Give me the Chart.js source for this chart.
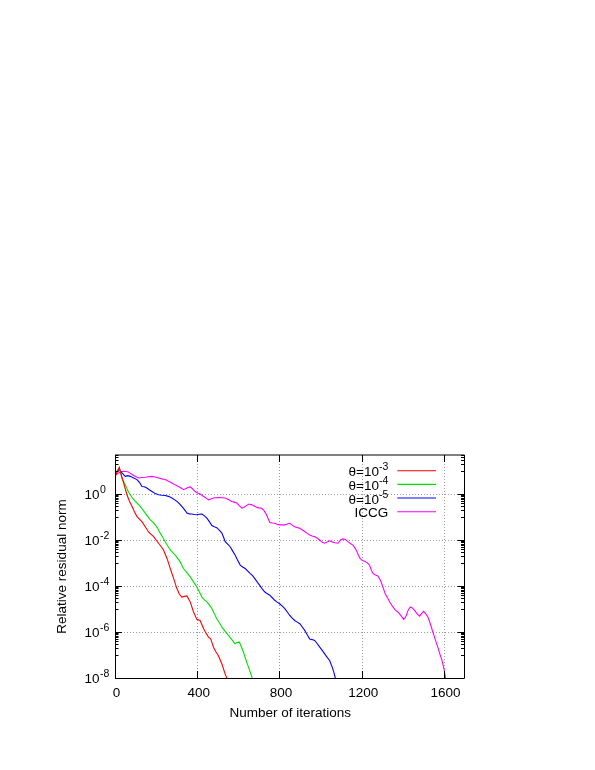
<!DOCTYPE html>
<html>
<head>
<meta charset="utf-8">
<script src="https://cdn.jsdelivr.net/npm/chart.js@4/dist/chart.umd.min.js"></script>
<style>
html,body{margin:0;padding:0;background:#fff;}
#wrap{width:595px;height:770px;position:relative;}
</style>
</head>
<body>
<div id="wrap"><canvas id="c"></canvas></div>
<script>
// ---------------- data (iterations, log10 of relative residual norm) ----------------
const redIter = [0,10,21,30,42,58,70,83,95,107,120,131,147,164,176,188,200,212,224,236,
  253,269,285,301,313,325,338,350,366,382,398,414,431,443,455,465,471,479,490,503,520,536,546];
const redLog10 = [0.75,0.95,1.16,0.85,0.48,-0.03,-0.30,-0.54,-0.78,-0.98,-1.10,-1.20,-1.42,-1.66,-1.75,-1.85,-2.00,-2.14,-2.28,-2.43,
  -2.80,-3.24,-3.67,-4.11,-4.35,-4.48,-4.45,-4.43,-4.69,-5.13,-5.45,-5.50,-5.86,-6.05,-6.22,-6.30,-6.44,-6.66,-6.85,-7.03,-7.39,-7.83,-8.05];

const greenIter = [0,10,21,35,50,62,74,86,99,111,123,135,147,160,172,184,196,208,220,232,
  244,256,269,281,293,305,317,325,333,350,366,382,398,410,423,435,447,459,471,483,
  495,508,520,536,552,568,584,595,605,615,625,641,657,669];
const greenLog10 = [0.85,1.00,1.14,0.65,0.41,0.15,-0.03,-0.18,-0.32,-0.43,-0.54,-0.68,-0.83,-0.98,-1.12,-1.22,-1.34,-1.50,-1.70,-1.88,
  -2.07,-2.25,-2.43,-2.55,-2.65,-2.80,-2.95,-3.10,-3.24,-3.42,-3.60,-3.82,-4.04,-4.25,-4.48,-4.60,-4.69,-4.82,-4.98,-5.20,
  -5.42,-5.60,-5.79,-5.97,-6.15,-6.33,-6.51,-6.45,-6.44,-6.65,-6.88,-7.32,-7.72,-8.05];

const blueIter = [0,5,21,34,50,62,74,91,107,120,131,143,155,168,180,196,212,228,244,260,
  277,289,301,313,325,338,350,362,374,386,398,410,423,435,447,459,471,483,495,508,
  520,528,536,548,560,572,584,596,609,621,633,645,657,670,682,693,704,716,729,741,
  753,765,777,789,801,814,826,838,850,862,874,887,899,911,923,935,947,959,971,984,
  996,1008,1020,1032,1044,1057,1066,1073];
const blueLog10 = [0.80,0.92,1.06,0.92,0.77,0.80,0.77,0.70,0.63,0.50,0.33,0.32,0.26,0.18,0.11,0.02,-0.03,-0.05,-0.06,-0.10,
  -0.17,-0.24,-0.32,-0.42,-0.54,-0.68,-0.83,-0.86,-0.87,-0.89,-0.90,-0.88,-0.87,-0.95,-1.05,-1.20,-1.37,-1.42,-1.46,-1.58,
  -1.70,-1.88,-2.07,-2.18,-2.29,-2.47,-2.65,-2.87,-3.09,-3.17,-3.24,-3.34,-3.45,-3.56,-3.70,-3.84,-3.97,-4.12,-4.26,-4.34,
  -4.40,-4.51,-4.62,-4.70,-4.77,-4.87,-4.98,-5.13,-5.28,-5.40,-5.50,-5.57,-5.64,-5.78,-5.93,-6.12,-6.30,-6.33,-6.37,-6.51,
  -6.66,-6.80,-6.95,-7.10,-7.24,-7.54,-7.80,-8.05];

const iccgIter = [0,5,18,30,42,54,66,78,91,103,
  115,131,147,163,180,196,212,228,244,260,
  277,293,309,321,333,341,350,358,366,378,
  390,402,414,426,439,447,455,467,479,491,
  503,520,536,552,568,580,593,605,617,625,
  633,641,649,657,665,677,690,700,712,725,
  737,745,753,765,777,789,801,814,826,838,
  850,862,874,887,899,911,923,935,947,959,
  971,984,996,1008,1020,1032,1044,1056,1069,1085,
  1097,1109,1121,1133,1145,1157,1166,1174,1182,1190,
  1202,1214,1226,1238,1247,1255,1267,1279,1291,1303,
  1315,1328,1340,1352,1364,1376,1390,1404,1410,1417,
  1426,1436,1446,1457,1469,1481,1491,1501,1511,1522,
  1534,1546,1558,1570,1580,1591,1600,1609];
const iccgLog10 = [0.80,0.84,0.92,0.97,0.99,0.98,0.96,0.88,0.81,0.75,
  0.70,0.72,0.73,0.75,0.77,0.74,0.70,0.66,0.63,0.56,
  0.48,0.40,0.33,0.26,0.19,0.22,0.26,0.30,0.31,0.22,
  0.11,0.05,0.00,-0.07,-0.15,-0.20,-0.25,-0.21,-0.17,-0.16,
  -0.15,-0.16,-0.17,-0.24,-0.32,-0.35,-0.39,-0.50,-0.61,-0.58,
  -0.54,-0.49,-0.44,-0.44,-0.47,-0.52,-0.58,-0.60,-0.61,-0.72,
  -0.90,-1.07,-1.24,-1.26,-1.27,-1.31,-1.34,-1.34,-1.34,-1.30,
  -1.27,-1.35,-1.42,-1.46,-1.49,-1.56,-1.63,-1.71,-1.78,-1.82,
  -1.85,-1.92,-2.00,-2.10,-2.14,-2.08,-2.03,-2.08,-2.12,-2.14,
  -2.00,-1.95,-1.98,-2.07,-2.15,-2.22,-2.33,-2.45,-2.62,-2.78,
  -2.88,-2.92,-2.98,-3.09,-3.31,-3.45,-3.52,-3.56,-3.75,-4.04,
  -4.35,-4.55,-4.75,-4.91,-5.05,-5.13,-5.28,-5.45,-5.40,-5.28,
  -5.05,-4.91,-4.95,-5.06,-5.20,-5.31,-5.20,-5.10,-5.20,-5.35,
  -5.65,-6.00,-6.33,-6.66,-6.95,-7.24,-7.60,-8.05];

// ---------------- labels / ticks ----------------
const seriesMain = ['θ=10', 'θ=10', 'θ=10', 'ICCG'];
const seriesSup  = ['-3', '-4', '-5', ''];
const seriesColors = ['#ff0000', '#00e000', '#0000ff', '#ff00ff'];
const xTicks = [0, 400, 800, 1200, 1600];
const yTickExps = [0, -2, -4, -6, -8];
const xMin = 0, xMax = 1700, yMin = 1e-8, yMax = 50;
const xTitle = 'Number of iterations';
const yTitle = 'Relative residual norm';

// ---------------- build ----------------
function pts(it, lg) { return it.map((v, i) => ({x: v, y: Math.pow(10, lg[i])})); }
const datasets = [
  pts(redIter, redLog10), pts(greenIter, greenLog10),
  pts(blueIter, blueLog10), pts(iccgIter, iccgLog10)
].map((d, i) => ({
  label: seriesMain[i] + seriesSup[i], data: d,
  borderColor: seriesColors[i], borderWidth: 1.1,
  pointRadius: 0, tension: 0, fill: false
}));

const FONT = '"Liberation Sans", Arial, sans-serif';
const MAIN = 13.5, SUP = 10.5, RAISE = 6;

function drawSup(ctx, main, sup, xRight, base) {
  ctx.font = MAIN + 'px ' + FONT;
  const wm = ctx.measureText(main).width;
  ctx.font = SUP + 'px ' + FONT;
  const ws = sup ? ctx.measureText(sup).width : 0;
  const x0 = xRight - wm - ws;
  ctx.textAlign = 'left'; ctx.textBaseline = 'alphabetic';
  ctx.font = MAIN + 'px ' + FONT;
  ctx.fillText(main, x0, base);
  if (sup) { ctx.font = SUP + 'px ' + FONT; ctx.fillText(sup, x0 + wm, base - RAISE); }
}

const gp = {
  id: 'gp',
  beforeDatasetsDraw(chart) {
    const {ctx, chartArea: a, scales: {x, y}} = chart;
    ctx.save();
    ctx.strokeStyle = '#9a9a9a'; ctx.lineWidth = 1; ctx.setLineDash([1, 2]);
    xTicks.forEach(v => {
      if (v <= xMin) return;
      const px = Math.round(x.getPixelForValue(v)) + 0.5;
      ctx.beginPath(); ctx.moveTo(px, a.top); ctx.lineTo(px, a.bottom); ctx.stroke();
    });
    yTickExps.forEach(e => {
      const v = Math.pow(10, e); if (v <= yMin) return;
      const py = Math.round(y.getPixelForValue(v)) + 0.5;
      ctx.beginPath(); ctx.moveTo(a.left, py); ctx.lineTo(a.right, py); ctx.stroke();
    });
    ctx.restore();
  },
  afterDatasetsDraw(chart) {
    const {ctx, chartArea: a, scales: {x, y}} = chart;
    ctx.save();
    ctx.setLineDash([]);
    ctx.strokeStyle = '#000'; ctx.lineWidth = 1;
    // border
    ctx.beginPath();
    ctx.moveTo(a.left + 0.5, a.top); ctx.lineTo(a.left + 0.5, a.bottom + 0.5);
    ctx.moveTo(a.left, a.bottom + 0.5); ctx.lineTo(a.right, a.bottom + 0.5);
    ctx.moveTo(a.left, a.top); ctx.lineTo(a.right, a.top);
    ctx.moveTo(a.right, a.top); ctx.lineTo(a.right, a.bottom);
    ctx.stroke();
    // x major ticks (bottom & top, inward)
    const MAJ = 7, MIN = 3.5;
    ctx.beginPath();
    xTicks.forEach(v => {
      const px = Math.round(x.getPixelForValue(v)) + 0.5;
      ctx.moveTo(px, a.bottom); ctx.lineTo(px, a.bottom - MAJ);
      ctx.moveTo(px, a.top); ctx.lineTo(px, a.top + MAJ);
    });
    // y major ticks
    yTickExps.forEach(e => {
      const py = Math.round(y.getPixelForValue(Math.pow(10, e))) + 0.5;
      ctx.moveTo(a.left, py); ctx.lineTo(a.left + MAJ, py);
      ctx.moveTo(a.right, py); ctx.lineTo(a.right - MAJ, py);
    });
    // y minor ticks: k*10^(E-1), k=1..9 between even decades
    for (let E = -8; E <= 2; E += 2) {
      for (let k = 1; k <= 9; k++) {
        const v = k * Math.pow(10, E - 1);
        if (v <= yMin || v > yMax) continue;
        const py = Math.round(y.getPixelForValue(v)) + 0.5;
        ctx.moveTo(a.left, py); ctx.lineTo(a.left + MIN, py);
        ctx.moveTo(a.right, py); ctx.lineTo(a.right - MIN, py);
      }
    }
    ctx.stroke();

    ctx.fillStyle = '#000';
    // x tick labels
    ctx.font = MAIN + 'px ' + FONT; ctx.textAlign = 'center'; ctx.textBaseline = 'alphabetic';
    xTicks.forEach(v => ctx.fillText(String(v), x.getPixelForValue(v) + 1.5, a.bottom + 19));
    // y tick labels 10^e : "10" ends at left-15.5, superscript follows
    yTickExps.forEach(e => {
      const py = y.getPixelForValue(Math.pow(10, e));
      ctx.font = MAIN + 'px ' + FONT; ctx.textAlign = 'right'; ctx.textBaseline = 'alphabetic';
      const xr = a.left - 15.5;
      ctx.fillText('10', xr, py + 5.3);
      ctx.font = SUP + 'px ' + FONT; ctx.textAlign = 'left';
      ctx.fillText(String(e), xr + 0.5, py + 5.3 - RAISE);
    });
    // axis titles
    ctx.font = MAIN + 'px ' + FONT; ctx.textAlign = 'center'; ctx.textBaseline = 'alphabetic';
    ctx.fillText(xTitle, (a.left + a.right) / 2 + 0.5, a.bottom + 39);
    ctx.save();
    ctx.translate(66, (a.top + a.bottom) / 2);
    ctx.rotate(-Math.PI / 2);
    ctx.fillText(yTitle, 0, 0);
    ctx.restore();

    // key (top right)
    const textRight = a.left + 273.3, lineX0 = a.left + 282.3, lineX1 = a.left + 321;
    seriesMain.forEach((m, i) => {
      const ly = a.top + 15.7 + i * 13.67;
      ctx.fillStyle = '#000';
      drawSup(ctx, m, seriesSup[i], textRight, ly + 5.5);
      ctx.strokeStyle = seriesColors[i]; ctx.lineWidth = 1.1;
      ctx.beginPath(); ctx.moveTo(lineX0, ly); ctx.lineTo(lineX1, ly); ctx.stroke();
    });
    ctx.restore();
  }
};

new Chart(document.getElementById('c'), {
  type: 'line',
  data: {datasets},
  options: {
    responsive: true, maintainAspectRatio: false, animation: false,
    parsing: true,
    layout: {padding: {left: 115, top: 455, right: 130.5, bottom: 92}},
    plugins: {legend: {display: false}, tooltip: {enabled: false}},
    scales: {
      x: {type: 'linear', min: xMin, max: xMax, display: false},
      y: {type: 'logarithmic', min: yMin, max: yMax, display: false}
    }
  },
  plugins: [gp]
});
</script>
</body>
</html>
